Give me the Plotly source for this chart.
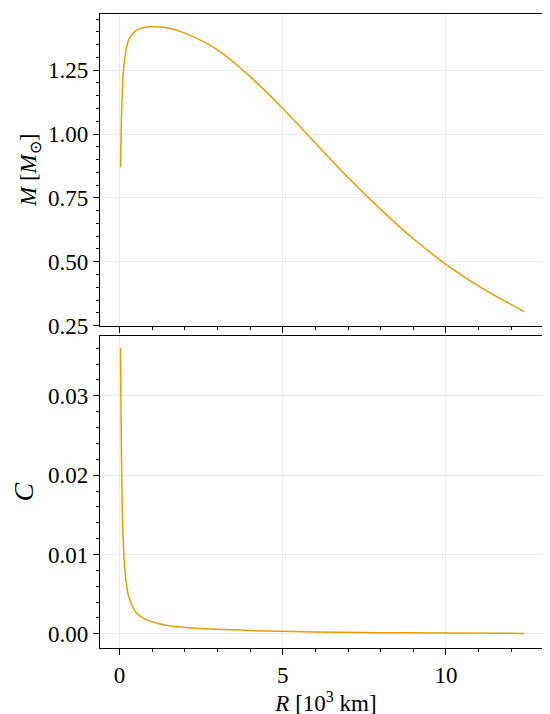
import plotly.graph_objects as go
from plotly.subplots import make_subplots

# radius in 10^3 km
r_mass = [0.03, 0.05, 0.08, 0.12, 0.2, 0.3, 0.5, 0.75, 1.0, 1.5, 2.0, 3.0, 4.0, 5.0,
          6.0, 7.0, 8.0, 9.0, 10.0, 11.0, 12.4]
mass = [0.87, 1.02, 1.15, 1.25, 1.33, 1.375, 1.405, 1.417, 1.42, 1.415, 1.395, 1.33,
        1.225, 1.10, 0.965, 0.83, 0.705, 0.59, 0.49, 0.405, 0.305]

r_comp = [0.03, 0.04, 0.06, 0.08, 0.1, 0.15, 0.2, 0.3, 0.5, 0.75, 1.0, 1.5, 2.0, 3.0,
          4.0, 5.0, 6.0, 8.0, 10.0, 12.4]
comp = [0.036, 0.030, 0.022, 0.0165, 0.0130, 0.0087, 0.0065, 0.0044, 0.0027, 0.0019,
        0.0015, 0.0010, 0.0008, 0.00055, 0.0004, 0.0003, 0.00022, 0.00013, 0.00008, 0.00004]

color = "#E69F00"
font = "Liberation Serif"

fig = make_subplots(rows=2, cols=1, shared_xaxes=True, vertical_spacing=0.017)
fig.add_trace(go.Scatter(x=r_mass, y=mass, mode="lines", line=dict(color=color, width=1.5, shape="spline")), 1, 1)
fig.add_trace(go.Scatter(x=r_comp, y=comp, mode="lines", line=dict(color=color, width=1.5, shape="spline")), 2, 1)

axis_style = dict(showline=True, linecolor="black", linewidth=1.2, mirror=True,
                  ticks="outside", ticklen=6, tickcolor="black",
                  showgrid=True, gridcolor="#ebebeb", zeroline=False,
                  tickfont=dict(family=font, size=23, color="black"),
                  minor=dict(ticks="outside", ticklen=3, tickcolor="black"))

fig.update_xaxes(**axis_style, range=[-0.6, 13.25], dtick=5)
fig.update_xaxes(minor_dtick=1)
fig.update_xaxes(title=dict(text="<i>R</i> [10<sup>3</sup> km]", font=dict(family=font, size=23, color="black"), standoff=4), row=2, col=1)
fig.update_yaxes(**axis_style)
fig.update_yaxes(range=[0.25, 1.47], dtick=0.25, tickformat=".2f", minor_dtick=0.05,
                 title=dict(text="<i>M</i> [<i>M</i><sub>⊙</sub>]", font=dict(family=font, size=23, color="black"), standoff=4),
                 row=1, col=1)
fig.update_yaxes(range=[-0.0018, 0.0375], dtick=0.01, tickformat=".2f", minor_dtick=0.002,
                 title=dict(text="<i>C</i>", font=dict(family=font, size=28, color="black"), standoff=12),
                 row=2, col=1)

fig.update_layout(width=550, height=714, showlegend=False, plot_bgcolor="white",
                  paper_bgcolor="white", font=dict(family=font, size=23, color="black"),
                  margin=dict(l=92, r=6, t=6, b=74))
fig.write_html("out.html")
